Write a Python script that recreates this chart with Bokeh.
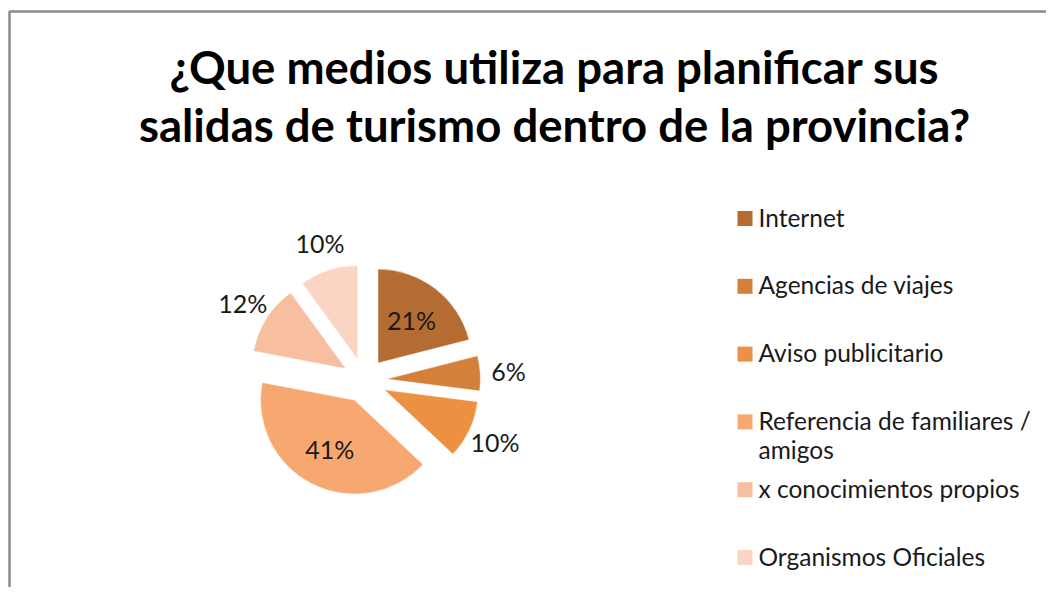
import math
import textwrap
from bokeh.plotting import figure
from bokeh.models import Range1d, ColumnDataSource
from bokeh.core.properties import value
from bokeh.embed import file_html
from bokeh.resources import INLINE

# ---- data ----
title_lines = ["¿Que medios utiliza para planificar sus",
               "salidas de turismo dentro de la provincia?"]
categories = ["Internet", "Agencias de viajes", "Aviso publicitario",
              "Referencia de familiares / amigos", "x conocimientos propios",
              "Organismos Oficiales"]
values = [21, 6, 10, 41, 12, 10]
colors = ["#B46C32", "#D4803A", "#EC9141", "#F7A870", "#F8BEA0", "#FAD5C3"]
label_inside = [True, False, False, True, False, False]

# ---- layout ----
W, H = 1046, 587
FONT = "Lato"


def Y(py):
    # picture pixel y -> data y
    return H - py


def X(px):
    return px


p = figure(width=W, height=H, output_backend="svg", toolbar_location=None,
           x_range=Range1d(0, W), y_range=Range1d(0, H), min_border=0)
p.axis.visible = False
p.grid.visible = False
p.outline_line_color = None
p.background_fill_color = "white"
p.border_fill_color = "white"

# frame (left and top edges visible)
p.line(x=[X(9), X(9), W + 20], y=[-20, Y(11), Y(11)], line_color="#8C8C8C", line_width=2.5)

# title
p.text(x=[X(554), X(554)], y=[Y(66), Y(124)], text=title_lines,
       text_font=value(FONT), text_font_style="bold", text_font_size="45.5px",
       text_align="center", text_baseline="middle", text_color="#000000")

# pie
cx, cy = X(364), Y(380)
r = 94
explode = 22
total = sum(values)
cum = 0
xs, ys, sa, ea, lx, ly, ltxt = [], [], [], [], [], [], []
for v, inside in zip(values, label_inside):
    f0 = cum / total
    cum += v
    f1 = cum / total
    a_start = math.pi / 2 - 2 * math.pi * f1
    a_end = math.pi / 2 - 2 * math.pi * f0
    mid = (a_start + a_end) / 2
    ox, oy = cx + explode * math.cos(mid), cy + explode * math.sin(mid)
    xs.append(ox); ys.append(oy); sa.append(a_start); ea.append(a_end)
    lr = explode + (0.58 * r if inside else 1.3 * r)
    lx.append(cx + lr * math.cos(mid)); ly.append(cy + lr * math.sin(mid))
    ltxt.append(f"{round(100 * v / total)}%")

src = ColumnDataSource(dict(x=xs, y=ys, sa=sa, ea=ea, color=colors))
p.wedge(x="x", y="y", radius=r, start_angle="sa", end_angle="ea",
        fill_color="color", line_color="white", line_width=0.5, source=src)
p.text(x=lx, y=ly, text=ltxt, text_font=value(FONT), text_font_size="25px",
       text_align="center", text_baseline="middle", text_color="#1A1A1A")

# legend
leg_x = X(737)
leg_top = 218
leg_step = 67.8
sq = 15
for i, (cat, col) in enumerate(zip(categories, colors)):
    yc = Y(leg_top + i * leg_step)
    p.rect(x=[leg_x + sq / 2], y=[yc], width=sq, height=sq,
           fill_color=col, line_color=None)
    lines = textwrap.wrap(cat, 26)
    p.text(x=[leg_x + 21], y=[yc + 16], text=["\n".join(lines)],
           text_font=value(FONT), text_font_size="24.5px",
           text_align="left", text_baseline="top", text_color="#1A1A1A",
           text_line_height=1.0)

open("out.html", "w").write(file_html(p, INLINE))
